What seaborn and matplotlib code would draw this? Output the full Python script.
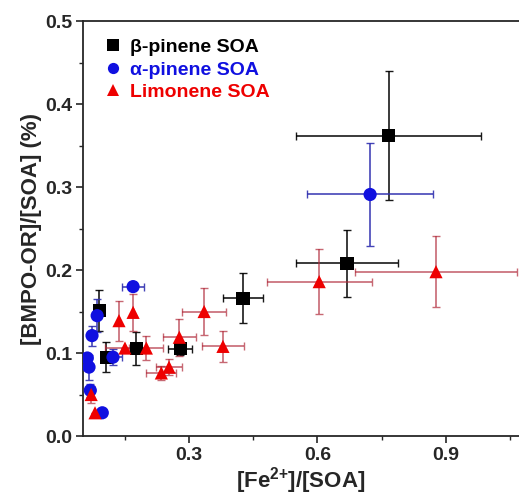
import numpy as np
import pandas as pd
import matplotlib
matplotlib.use("Agg")
import matplotlib.pyplot as plt
from matplotlib.ticker import MultipleLocator, FormatStrFormatter
import seaborn as sns

# beta-pinene SOA
bp_x = [0.766, 0.669, 0.426, 0.279, 0.176, 0.106, 0.090]
bp_y = [0.362, 0.208, 0.166, 0.105, 0.105, 0.095, 0.151]
bp_xerr = [0.216, 0.120, 0.047, 0.028, 0.0, 0.0, 0.0]
bp_yerr = [0.078, 0.040, 0.030, 0.007, 0.020, 0.018, 0.025]

# alpha-pinene SOA
ap_x = [0.723, 0.169, 0.085, 0.073, 0.122, 0.062, 0.066, 0.069, 0.097]
ap_y = [0.291, 0.180, 0.145, 0.121, 0.095, 0.094, 0.083, 0.055, 0.028]
ap_xerr = [0.147, 0.025, 0.0, 0.0, 0.020, 0.0, 0.0, 0.0, 0.0]
ap_yerr = [0.062, 0.0, 0.020, 0.012, 0.010, 0.0, 0.015, 0.008, 0.0]

# Limonene SOA
lim_x = [0.877, 0.604, 0.335, 0.379, 0.277, 0.253, 0.235, 0.200, 0.169, 0.150, 0.136, 0.071, 0.080]
lim_y = [0.198, 0.186, 0.150, 0.108, 0.119, 0.083, 0.076, 0.106, 0.149, 0.106, 0.139, 0.050, 0.028]
lim_xerr = [0.190, 0.123, 0.051, 0.050, 0.039, 0.030, 0.035, 0.040, 0.0, 0.046, 0.0, 0.0, 0.0]
lim_yerr = [0.043, 0.039, 0.028, 0.019, 0.022, 0.010, 0.008, 0.015, 0.022, 0.0, 0.024, 0.010, 0.0]

series = ["\u03b2-pinene SOA", "\u03b1-pinene SOA", "Limonene SOA"]
colors = ["black", "#1010e0", "#ee0000"]
err_colors = ["black", "#3030b0", "#b02838"]
markers = ["s", "o", "^"]

df = pd.concat([
    pd.DataFrame({"x": bp_x, "y": bp_y, "xerr": bp_xerr, "yerr": bp_yerr, "series": series[0]}),
    pd.DataFrame({"x": ap_x, "y": ap_y, "xerr": ap_xerr, "yerr": ap_yerr, "series": series[1]}),
    pd.DataFrame({"x": lim_x, "y": lim_y, "xerr": lim_xerr, "yerr": lim_yerr, "series": series[2]}),
], ignore_index=True)

sns.set_style("ticks")
plt.rcParams["font.family"] = ["Liberation Sans", "DejaVu Sans"]
plt.rcParams["font.weight"] = "bold"
plt.rcParams["mathtext.fontset"] = "custom"
plt.rcParams["mathtext.bf"] = "Liberation Sans:bold"
plt.rcParams["mathtext.default"] = "bf"

fig = plt.figure(figsize=(5.19, 4.97), dpi=100)
ax = fig.add_axes([0.16, 0.1227, 0.84, 0.835])

for name, ec in zip(series, err_colors):
    sub = df[df["series"] == name]
    ax.errorbar(sub["x"], sub["y"], xerr=sub["xerr"], yerr=sub["yerr"], fmt="none",
                ecolor=ec, elinewidth=1.2, capsize=3, capthick=1.0,
                alpha=0.7 if name == series[2] else 0.9, zorder=2)

sns.scatterplot(data=df, x="x", y="y", hue="series", style="series",
                palette=dict(zip(series, colors)), markers=dict(zip(series, markers)),
                s=90, edgecolor="none", linewidth=0, ax=ax, zorder=3)

ax.set_xlim(0.052, 1.071)
ax.set_ylim(0.0, 0.5)
ax.xaxis.set_major_locator(MultipleLocator(0.3))
ax.xaxis.set_minor_locator(MultipleLocator(0.15))
ax.yaxis.set_major_locator(MultipleLocator(0.1))
ax.yaxis.set_minor_locator(MultipleLocator(0.05))
ax.tick_params(which="major", length=5, width=1.2, labelsize=14, direction="out", pad=3)
ax.tick_params(which="minor", length=3, width=1.0, direction="out")
ax.xaxis.set_major_formatter(FormatStrFormatter("%.1f"))
ax.yaxis.set_major_formatter(FormatStrFormatter("%.1f"))
for lab in ax.get_xticklabels() + ax.get_yticklabels():
    lab.set_fontweight("bold")

for side in ["left", "bottom", "top"]:
    ax.spines[side].set_linewidth(1.3)
ax.spines["right"].set_visible(False)

ax.set_xlabel("[Fe$^{2{+}}$]/[SOA]", fontsize=16, fontweight="bold", labelpad=1)
ax.set_ylabel("[BMPO-OR]/[SOA] (%)", fontsize=16, fontweight="bold", labelpad=2)

leg = ax.legend(loc="upper left", frameon=False, fontsize=14, handletextpad=0.2,
                borderaxespad=0.5, labelspacing=0.25, markerscale=0.85, handlelength=1.3)
for txt, c in zip(leg.get_texts(), colors):
    txt.set_color(c)
    txt.set_fontweight("bold")

fig.savefig("out.png", dpi=100)
